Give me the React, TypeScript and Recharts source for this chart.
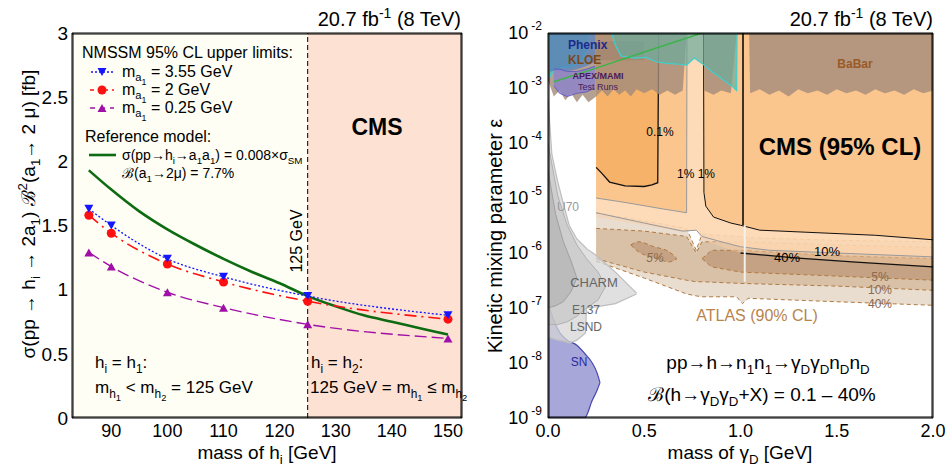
import React from "react";
import { ComposedChart, Line, Area, XAxis, YAxis, ReferenceArea, ReferenceLine } from "recharts";

const FONT = "'Liberation Sans', Arial, Helvetica, sans-serif";

// ---------- left panel: NMSSM limits ----------
const higgsMass = [86, 90, 100, 110, 125, 150];
const limitMa355 = [1.63, 1.5, 1.24, 1.1, 0.95, 0.8];
const limitMa2 = [1.58, 1.44, 1.2, 1.06, 0.91, 0.77];
const limitMa025 = [1.29, 1.18, 0.98, 0.86, 0.73, 0.62];
const refMass = [86, 90, 95, 100, 105, 110, 115, 120, 125, 130, 135, 140, 145, 150];
const refSigma = [1.93, 1.78, 1.61, 1.47, 1.35, 1.24, 1.14, 1.05, 0.95, 0.87, 0.8, 0.75, 0.7, 0.65];
const leftXDomain = [83, 152.5];
const leftXTicks = [90, 100, 110, 120, 130, 140, 150];
const leftYTicks = [0, 0.5, 1, 1.5, 2, 2.5, 3];
const leftXMinor = Array.from({ length: 35 }, (_, i) => 84 + 2 * i);
const leftYMinor = Array.from({ length: 31 }, (_, i) => +(0.1 * i).toFixed(1));
const SM_MASS = 125;

// ---------- right panel: dark photon ----------
const TOP = 1e-2;
const rightXTicks = [0, 0.5, 1, 1.5, 2];
const rightXMinor = Array.from({ length: 21 }, (_, i) => +(0.1 * i).toFixed(1));
const decadeTicks = [1e-9, 1e-8, 1e-7, 1e-6, 1e-5, 1e-4, 1e-3, 1e-2];
const logMinor = decadeTicks.slice(0, -1).flatMap((d) => [2, 3, 4, 5, 6, 7, 8, 9].map((k) => k * d));

// ATLAS (90% CL) bands: [mass, low, high]
const atlas40 = [[0.25, 7.1e-7, 5.4e-6], [0.5, 3.5e-7, 3.8e-6], [0.72, 1.8e-7, 2.8e-6], [0.77, 1.66e-7, 1.12e-6], [0.8, 1.6e-7, 2.2e-6], [0.98, 1.6e-7, 2.0e-6], [1.01, 1.2e-7, 2.0e-6], [1.04, 1.5e-7, 1.9e-6], [1.5, 1.3e-7, 1.7e-6], [2.0, 1.12e-7, 1.6e-6]];
const atlas10 = [[0.25, 7.9e-7, 2.8e-6], [0.5, 4.5e-7, 2.5e-6], [0.72, 3.2e-7, 2.0e-6], [0.77, 3.0e-7, 1.0e-6], [0.8, 3.0e-7, 1.6e-6], [1.0, 2.8e-7, 1.6e-6], [1.5, 2.5e-7, 1.4e-6], [2.0, 2.1e-7, 1.26e-6]];
const atlas5Band = [[0.8, 7.9e-7, 7.9e-7], [0.85, 5.6e-7, 1.12e-6], [1.0, 4.5e-7, 1.12e-6], [1.5, 3.8e-7, 8.9e-7], [2.0, 3.2e-7, 7.9e-7]];
const atlas5Island = [[0.43, 1.4e-6, 1.4e-6], [0.47, 1.05e-6, 1.6e-6], [0.55, 8.3e-7, 1.3e-6], [0.63, 6.9e-7, 1.05e-6], [0.67, 7.9e-7, 7.9e-7]];

// CMS (95% CL) lower edges: [mass, low]  (excluded up to the top)
const cms40 = [[0.25, 4.5e-6], [0.5, 3.2e-6], [0.7, 2.4e-6], [0.77, 2.6e-6], [0.8, 1.8e-6], [0.9, 1.3e-6], [1.0, 1.0e-6], [1.3, 8.1e-7], [1.6, 6.8e-7], [2.0, 5.6e-7]];
const cms10 = [[0.25, 5.4e-6], [0.5, 3.5e-6], [0.7, 2.5e-6], [0.77, 2.6e-6], [0.8, 2.0e-6], [0.9, 1.6e-6], [1.0, 1.3e-6], [1.15, 1.12e-6], [1.5, 1.0e-6], [2.0, 8.5e-7]];
const cms1Left = [[0.25, 1e-5], [0.4, 8.3e-6], [0.6, 6.3e-6], [0.72, 5.4e-6], [0.722, 1e-2]];
const cms1Right = [[0.808, 1e-2], [0.81, 1.26e-5], [0.82, 7.1e-6], [0.86, 4.5e-6], [0.95, 3.5e-6], [1.0, 3.2e-6], [1.1, 2.6e-6], [1.7, 2.1e-6], [2.0, 1.74e-6]];
const cms01 = [[0.25, 3.6e-5], [0.28, 2.8e-5], [0.32, 1.95e-5], [0.4, 1.66e-5], [0.5, 1.62e-5], [0.54, 1.74e-5], [0.57, 1.9e-5], [0.575, 1e-2]];

// other experiments
const babarA = [[0.0, 1.4e-3], [0.03, 7e-4], [0.06, 9e-4], [0.09, 6e-4], [0.12, 8e-4], [0.15, 5.5e-4], [0.18, 7.5e-4], [0.21, 5.5e-4], [0.25, 7e-4], [0.28, 9e-4], [0.31, 7e-4], [0.34, 9.5e-4], [0.37, 7.5e-4], [0.4, 9e-4], [0.43, 7e-4], [0.46, 9.5e-4], [0.5, 8e-4], [0.54, 9.5e-4], [0.58, 7.5e-4], [0.62, 9e-4], [0.66, 7.5e-4], [0.7, 9e-4], [0.72, 1e-2]];
const babarB = [[0.81, 1e-2], [0.812, 9e-4], [0.86, 7.5e-4], [0.9, 9e-4], [0.95, 8e-4], [0.98, 1e-2]];
const babarC = [[1.045, 1e-2], [1.05, 8e-4], [1.1, 9.5e-4], [1.15, 7.5e-4], [1.2, 9e-4], [1.25, 7e-4], [1.3, 9.5e-4], [1.35, 8e-4], [1.4, 9e-4], [1.45, 7.5e-4], [1.5, 9.5e-4], [1.55, 8e-4], [1.6, 9e-4], [1.65, 7.5e-4], [1.7, 9.5e-4], [1.75, 8e-4], [1.8, 9e-4], [1.85, 7.5e-4], [1.9, 9.5e-4], [1.95, 8e-4], [2.0, 9e-4]];
const tealRight = [[0.33, 1e-2], [0.35, 6e-3], [0.38, 3.8e-3], [0.45, 3.5e-3], [0.51, 3.6e-3], [0.56, 3.0e-3], [0.62, 2.8e-3], [0.68, 2.7e-3], [0.72, 2.6e-3], [0.76, 3.5e-3], [0.8, 2.8e-3], [0.85, 2.0e-3], [0.89, 1.6e-3], [0.93, 1.25e-3], [0.96, 1.05e-3], [0.98, 9e-4], [0.982, 1e-2]];
const tealLeft = [[0.005, 1e-2], [0.01, 1.6e-3], [0.03, 2.1e-3], [0.07, 2.4e-3], [0.12, 2.4e-3], [0.17, 3e-3], [0.2, 5e-3], [0.21, 1e-2]];
const phenix = [[0.01, 2.0e-3], [0.05, 2.1e-3], [0.1, 2.0e-3], [0.15, 2.2e-3], [0.2, 2.5e-3], [0.245, 3e-3], [0.247, 1e-2]];
const apexMami = [[0.03, 1.1e-3, 2.2e-3], [0.06, 8e-4, 2.2e-3], [0.1, 7e-4, 2.0e-3], [0.15, 8e-4, 2.0e-3], [0.2, 8.5e-4, 2.2e-3], [0.245, 1e-3, 2.5e-3]];
const kloe = [[0.245, 3.2e-3, 7.1e-3], [0.5, 3.2e-3, 7.1e-3]];
const gMinus2 = [[0.03, 1.3e-3], [0.25, 2.3e-3], [0.5, 4.5e-3], [0.8, 1e-2]];
const phiVeto = [[1.013, 1e-2], [1.013, 3.2e-6]];
const phiGap = [[1.022, 3.2e-6], [1.022, 3e-7]];
const beamDumpOuter = [[0, 2.95e-8, 6.3e-4], [0.02, 2.8e-8, 6.3e-5], [0.05, 2.6e-8, 2.0e-5], [0.08, 2.5e-8, 7.9e-6], [0.11, 2.3e-8, 3.2e-6], [0.15, 2.6e-8, 1.8e-6], [0.195, 3.5e-8, 1.26e-6], [0.2, 1e-7, 1.2e-6], [0.25, 1.05e-7, 9.1e-7], [0.35, 1.2e-7, 4.5e-7], [0.46, 1.8e-7, 1.86e-7]];
const beamDumpMid = [[0, 5e-8, 1e-4], [0.05, 5e-8, 1.12e-5], [0.1, 5.6e-8, 3.2e-6], [0.15, 7.1e-8, 1.4e-6], [0.2, 1e-7, 7.9e-7], [0.26, 1.4e-7, 4.5e-7], [0.3, 2.5e-7, 2.5e-7]];
const beamDumpInner = [[0, 1e-7, 3.2e-5], [0.04, 1.1e-7, 5e-6], [0.08, 1.3e-7, 1.6e-6], [0.12, 2e-7, 7.1e-7], [0.15, 3.5e-7, 3.5e-7]];
const supernova = [[0, 1e-9, 1.23e-7], [0.03, 1e-9, 6e-8], [0.06, 1e-9, 3.6e-8], [0.1, 1e-9, 2.6e-8], [0.15, 1e-9, 2.1e-8], [0.19, 1e-9, 1.5e-8], [0.23, 2.1e-9, 1e-8], [0.255, 3.2e-9, 6.6e-9], [0.27, 4.4e-9, 4.4e-9]];

const rangeRows = (rows: number[][]) => rows.map(([x, lo, hi]) => ({ x, r: [lo, hi ?? TOP] }));
const pointRows = (rows: number[][]) => rows.map(([x, y]) => ({ x, y }));

// ---------- text helpers ----------
type Mode = "n" | "b" | "bb" | "p";
type Part = [string, Mode?];
function Rich({ parts, size }: { parts: Part[]; size: number }) {
  let level = 0;
  return (
    <>
      {parts.map(([t, m = "n"], i) => {
        const target = m === "b" ? size * 0.28 : m === "bb" ? size * 0.48 : m === "p" ? -size * 0.42 : 0;
        const fs = m === "n" ? size : m === "bb" ? size * 0.55 : size * 0.7;
        const dy = target - level;
        level = target;
        return (
          <tspan key={i} dy={dy} fontSize={fs}>
            {t}
          </tspan>
        );
      })}
    </>
  );
}

function Txt(props: { x: number; y: number; t: string | Part[]; size?: number; anchor?: "start" | "middle" | "end"; color?: string; bold?: boolean; rotate?: number; italic?: boolean }) {
  const { x, y, t, size = 16, anchor = "start", color = "#000", bold, rotate, italic } = props;
  const parts: Part[] = typeof t === "string" ? [[t]] : t;
  return (
    <text x={x} y={y} fontSize={size} textAnchor={anchor} fill={color} fontWeight={bold ? 700 : 400} fontStyle={italic ? "italic" : "normal"} fontFamily={FONT} transform={rotate ? `rotate(${rotate} ${x} ${y})` : undefined}>
      <Rich parts={parts} size={size} />
    </text>
  );
}

// ---------- markers ----------
const TriDown = ({ cx, cy, color }: any) => <path d={`M${cx - 4.5},${cy - 4} L${cx + 4.5},${cy - 4} L${cx},${cy + 4} Z`} fill={color} />;
const TriUp = ({ cx, cy, color }: any) => <path d={`M${cx - 4.5},${cy + 4} L${cx + 4.5},${cy + 4} L${cx},${cy - 4} Z`} fill={color} />;
const Dot = ({ cx, cy, color }: any) => <circle cx={cx} cy={cy} r={4.5} fill={color} />;

const BLUE = "#1515ff";
const RED = "#ff1010";
const PURPLE = "#a010a8";
const GREEN = "#0d6b12";

// frame axes: inward ticks on all sides
function frame(domainX: number[], domainY: number[], xMaj: number[], xMin: number[], yMaj: number[], yMin: number[], log: boolean, majX: number, minX: number, majY: number, minY: number) {
  const ys: any = log ? { scale: "log" } : {};
  const common = { stroke: "#000", tick: false, interval: 0 as const, allowDataOverflow: true, mirror: true, type: "number" as const };
  return [
    <XAxis key="xb1" xAxisId="xb1" orientation="bottom" domain={domainX} ticks={xMaj} tickSize={majX} height={1} {...common} />,
    <XAxis key="xb2" xAxisId="xb2" orientation="bottom" domain={domainX} ticks={xMin} tickSize={minX} height={1} {...common} />,
    <XAxis key="xt1" xAxisId="xt1" orientation="top" domain={domainX} ticks={xMaj} tickSize={majX} height={1} {...common} />,
    <XAxis key="xt2" xAxisId="xt2" orientation="top" domain={domainX} ticks={xMin} tickSize={minX} height={1} {...common} />,
    <YAxis key="yl1" yAxisId="yl1" orientation="left" domain={domainY} ticks={yMaj} tickSize={majY} width={1} {...common} {...ys} />,
    <YAxis key="yl2" yAxisId="yl2" orientation="left" domain={domainY} ticks={yMin} tickSize={minY} width={1} {...common} {...ys} />,
    <YAxis key="yr1" yAxisId="yr1" orientation="right" domain={domainY} ticks={yMaj} tickSize={majY} width={1} {...common} {...ys} />,
    <YAxis key="yr2" yAxisId="yr2" orientation="right" domain={domainY} ticks={yMin} tickSize={minY} width={1} {...common} {...ys} />,
  ];
}

function LeftPanel() {
  const limitRows = higgsMass.map((m, i) => ({ x: m, a355: limitMa355[i], a2: limitMa2[i], a025: limitMa025[i] }));
  const refRows = refMass.map((m, i) => ({ x: m, ref: refSigma[i] }));
  return (
    <ComposedChart width={475} height={467} margin={{ top: 33, right: 13, bottom: 19, left: 22 }}>
      <XAxis dataKey="x" type="number" domain={leftXDomain} ticks={leftXTicks} interval={0} allowDataOverflow axisLine={false} tickLine={false} tickSize={0} tickMargin={6} height={30} tick={{ fontSize: 18, fill: "#000", fontFamily: FONT }} />
      <YAxis type="number" domain={[0, 3]} ticks={leftYTicks} interval={0} allowDataOverflow axisLine={false} tickLine={false} tickSize={0} tickMargin={4} width={50} tick={{ fontSize: 19, fill: "#000", fontFamily: FONT }} />
      <ReferenceArea x1={leftXDomain[0]} x2={SM_MASS} fill="#fefef4" fillOpacity={1} stroke="none" />
      <ReferenceArea x1={SM_MASS} x2={leftXDomain[1]} fill="#fde1d3" fillOpacity={1} stroke="none" />
      <ReferenceLine x={SM_MASS} stroke="#000" strokeDasharray="5 3" strokeWidth={1} />
      <Line data={refRows} dataKey="ref" type="monotone" stroke={GREEN} strokeWidth={2.6} dot={false} activeDot={false} isAnimationActive={false} />
      <Line data={limitRows} dataKey="a025" type="monotone" stroke={PURPLE} strokeWidth={1.4} strokeDasharray="12 5" dot={(p: any) => <TriUp key={p.index} cx={p.cx} cy={p.cy} color={PURPLE} />} activeDot={false} isAnimationActive={false} />
      <Line data={limitRows} dataKey="a2" type="monotone" stroke={RED} strokeWidth={1.6} strokeDasharray="12 5 2 5" dot={(p: any) => <Dot key={p.index} cx={p.cx} cy={p.cy} color={RED} />} activeDot={false} isAnimationActive={false} />
      <Line data={limitRows} dataKey="a355" type="monotone" stroke={BLUE} strokeWidth={1.3} strokeDasharray="2 2" dot={(p: any) => <TriDown key={p.index} cx={p.cx} cy={p.cy} color={BLUE} />} activeDot={false} isAnimationActive={false} />
      {frame(leftXDomain, [0, 3], leftXTicks, leftXMinor, leftYTicks, leftYMinor, false, 9, 5, 12, 7)}
    </ComposedChart>
  );
}

const PowerTick = ({ x, y, payload }: any) => {
  const e = Math.round(Math.log10(payload.value));
  return (
    <text x={x} y={y + 6} textAnchor="end" fontSize={18} fill="#000" fontFamily={FONT}>
      10
      <tspan dx={3} dy={-9} fontSize={12}>
        {e}
      </tspan>
    </text>
  );
};

function RightPanel() {
  const area = (rows: number[][], fill: string, opacity: number, stroke = "none", dash?: string, width = 1, type: any = "linear") => (
    <Area data={rangeRows(rows)} dataKey="r" type={type} fill={fill} fillOpacity={opacity} stroke={stroke} strokeWidth={width} strokeDasharray={dash} dot={false} activeDot={false} isAnimationActive={false} />
  );
  const ATL = "#b07a40";
  const cms40Line = cms40.filter(([x]) => x >= 0.95);
  return (
    <ComposedChart width={472} height={467} margin={{ top: 33, right: 14, bottom: 19, left: 21 }}>
      <XAxis dataKey="x" type="number" domain={[0, 2]} ticks={rightXTicks} interval={0} allowDataOverflow axisLine={false} tickLine={false} tickSize={0} tickMargin={6} height={30} tickFormatter={(v: number) => v.toFixed(1)} tick={{ fontSize: 18, fill: "#000", fontFamily: FONT }} />
      <YAxis type="number" scale="log" domain={[1e-9, 1e-2]} ticks={decadeTicks} interval={0} allowDataOverflow axisLine={false} tickLine={false} tickSize={0} tickMargin={6} width={52} tick={<PowerTick />} />
      {area(atlas40, "#e9ddd0", 1, ATL, "4 3")}
      {area(atlas10, "#d9c1a8", 1, ATL, "4 3")}
      {area(atlas5Band, "#c5a283", 1, ATL, "4 3")}
      {area(atlas5Island, "#c5a283", 1, ATL, "4 3", 1, "monotone")}
      {area(cms40, "#fbcfa4", 0.45)}
      {area(cms10, "#fcd7b2", 0.8, "#999999")}
      {area(cms1Left, "#fbc58e", 1, "#999999")}
      {area(cms1Right, "#fbc58e", 1, "#111111")}
      {area(cms01, "#f7b26a", 1, "#111111", undefined, 1.3)}
      <Line data={pointRows(cms40Line)} dataKey="y" stroke="#111" strokeWidth={1.3} dot={false} activeDot={false} isAnimationActive={false} />
      {area(babarA, "#a48c7a", 0.82)}
      {area(babarB, "#a48c7a", 0.82)}
      {area(babarC, "#a48c7a", 0.82)}
      {area(kloe, "#8a7060", 0.3)}
      {area(tealRight, "#6aab9c", 0.7, "#3fcfcf", undefined, 1.2)}
      {area(tealLeft, "#6aab9c", 0.7, "#3fcfcf", undefined, 1.2)}
      {area(phenix, "#4a7cc4", 0.65)}
      {area(apexMami, "#8b82cc", 0.8, "#5a50c0", undefined, 0.8)}
      <Line data={pointRows(gMinus2)} dataKey="y" stroke="#3cb44a" strokeWidth={1.5} dot={false} activeDot={false} isAnimationActive={false} />
      <Line data={pointRows(phiVeto)} dataKey="y" stroke="#000" strokeWidth={1.5} dot={false} activeDot={false} isAnimationActive={false} />
      <Line data={pointRows(phiGap)} dataKey="y" stroke="#f4f0ea" strokeWidth={2} dot={false} activeDot={false} isAnimationActive={false} />
      {area(supernova, "#a7a7d9", 1, "#4848b0", undefined, 1.2, "monotone")}
      {area(beamDumpOuter, "#d6d6d6", 0.75, "#bdbdbd", undefined, 1.2)}
      {area(beamDumpMid, "#c2c2c2", 0.6, "#b0b0b0")}
      {area(beamDumpInner, "#acacac", 0.55, "#a0a0a0")}
      {frame([0, 2], [1e-9, 1e-2], rightXTicks, rightXMinor, decadeTicks, logMinor, true, 7, 4, 10, 5)}
    </ComposedChart>
  );
}

function Annotations() {
  const lumi: Part[] = [["20.7 fb"], ["-1", "p"], [" (8 TeV)"]];
  return (
    <svg width={947} height={467} style={{ position: "absolute", left: 0, top: 0, pointerEvents: "none" }}>
      {/* left panel */}
      <Txt x={461} y={26} t={lumi} size={20} anchor="end" />
      <Txt x={267} y={459} t={[["mass of h"], ["i", "b"], [" [GeV]"]]} size={19} anchor="middle" />
      <Txt x={35} y={214} rotate={-90} anchor="middle" size={19} t={[["σ(pp → h"], ["i", "b"], [" → 2a"], ["1", "b"], [") ℬ"], ["2", "p"], ["(a"], ["1", "b"], ["→ 2 μ) [fb]"]]} />
      <Txt x={82} y={58} t="NMSSM 95% CL upper limits:" size={16} />
      <line x1={91} x2={114} y1={72} y2={72} stroke={BLUE} strokeWidth={1.3} strokeDasharray="2 2" />
      <TriDown cx={102} cy={72} color={BLUE} />
      <Txt x={122} y={77} size={16} t={[["m"], ["a", "b"], ["1", "bb"], [" = 3.55 GeV"]]} />
      <line x1={90} x2={114} y1={90} y2={90} stroke={RED} strokeWidth={1.6} strokeDasharray="4 4 10 4" />
      <Dot cx={102} cy={90} color={RED} />
      <Txt x={122} y={95} size={16} t={[["m"], ["a", "b"], ["1", "bb"], [" = 2 GeV"]]} />
      <line x1={90} x2={114} y1={108} y2={108} stroke={PURPLE} strokeWidth={1.4} strokeDasharray="5 5" />
      <TriUp cx={102} cy={108} color={PURPLE} />
      <Txt x={122} y={113} size={16} t={[["m"], ["a", "b"], ["1", "bb"], [" = 0.25 GeV"]]} />
      <Txt x={85} y={142} t="Reference model:" size={16} />
      <line x1={89} x2={116} y1={155} y2={155} stroke={GREEN} strokeWidth={2.6} />
      <Txt x={122} y={160} size={14} t={[["σ(pp→h"], ["i", "b"], ["→a"], ["1", "b"], ["a"], ["1", "b"], [") = 0.008×σ"], ["SM", "b"]]} />
      <Txt x={122} y={178} size={14} t={[["ℬ(a"], ["1", "b"], ["→2μ) = 7.7%"]]} />
      <Txt x={377} y={135} t="CMS" size={23} bold anchor="middle" />
      <Txt x={302} y={241} rotate={-90} anchor="middle" size={16} t="125 GeV" />
      <Txt x={95} y={368} size={17} t={[["h"], ["i", "b"], [" = h"], ["1", "b"], [":"]]} />
      <Txt x={95} y={393} size={17} t={[["m"], ["h", "b"], ["1", "bb"], [" < m"], ["h", "b"], ["2", "bb"], [" = 125 GeV"]]} />
      <Txt x={311} y={368} size={17} t={[["h"], ["i", "b"], [" = h"], ["2", "b"], [":"]]} />
      <Txt x={310} y={393} size={17} t={[["125 GeV = m"], ["h", "b"], ["1", "bb"], [" ≤ m"], ["h", "b"], ["2", "bb"]]} />

      {/* right panel */}
      <Txt x={933} y={26} t={lumi} size={20} anchor="end" />
      <Txt x={740} y={459} t={[["mass of γ"], ["D", "b"], [" [GeV]"]]} size={19} anchor="middle" />
      <Txt x={502} y={236} rotate={-90} anchor="middle" size={20} t="Kinetic mixing parameter ε" />
      <Txt x={568} y={49} t="Phenix" size={12} bold color="#1c2a8c" />
      <Txt x={568} y={64} t="KLOE" size={12} bold color="#7a4a1a" />
      <Txt x={598} y={79} t="APEX/MAMI" size={9} bold color="#4a1a5a" anchor="middle" />
      <Txt x={598} y={90} t="Test Runs" size={9} color="#4a1a5a" anchor="middle" />
      <Txt x={855} y={68} t="BaBar" size={12} bold color="#9a5a28" anchor="middle" />
      <Txt x={660} y={136} t="0.1%" size={12} anchor="middle" />
      <Txt x={696} y={178} t="1% 1%" size={12} anchor="middle" />
      <Txt x={840} y={155} t="CMS (95% CL)" size={24} bold anchor="middle" />
      <Txt x={568} y={211} t="U70" size={12} color="#999" anchor="middle" />
      <Txt x={655} y={262} t="5%" size={12} color="#8a6a50" anchor="middle" italic />
      <Txt x={787} y={262} t="40%" size={13} anchor="middle" />
      <Txt x={827} y={256} t="10%" size={13} anchor="middle" />
      <Txt x={880} y={281} t="5%" size={12} color="#8a6a50" anchor="middle" />
      <Txt x={880} y={294} t="10%" size={12} color="#8a6a50" anchor="middle" />
      <Txt x={880} y={308} t="40%" size={12} color="#8a6a50" anchor="middle" />
      <Txt x={594} y={287} t="CHARM" size={13} color="#666" anchor="middle" />
      <Txt x={586} y={314} t="E137" size={12} color="#666" anchor="middle" />
      <Txt x={586} y={331} t="LSND" size={12} color="#666" anchor="middle" />
      <Txt x={579} y={366} t="SN" size={12} color="#2a2aa0" anchor="middle" />
      <Txt x={757} y={321} t="ATLAS (90% CL)" size={16} color="#b8844c" anchor="middle" />
      <Txt x={768} y={369} size={19} anchor="middle" t={[["pp→h→n"], ["1", "b"], ["n"], ["1", "b"], ["→γ"], ["D", "b"], ["γ"], ["D", "b"], ["n"], ["D", "b"], ["n"], ["D", "b"]]} />
      <Txt x={762} y={401} size={19} anchor="middle" t={[["ℬ(h→γ"], ["D", "b"], ["γ"], ["D", "b"], ["+X) = 0.1 – 40%"]]} />
    </svg>
  );
}

export default function App() {
  return (
    <div style={{ position: "absolute", left: 0, top: 0, width: 947, height: 467, background: "#fff", fontFamily: FONT }}>
      <div style={{ position: "absolute", left: 0, top: 0 }}>
        <LeftPanel />
      </div>
      <div style={{ position: "absolute", left: 475, top: 0 }}>
        <RightPanel />
      </div>
      <Annotations />
    </div>
  );
}
